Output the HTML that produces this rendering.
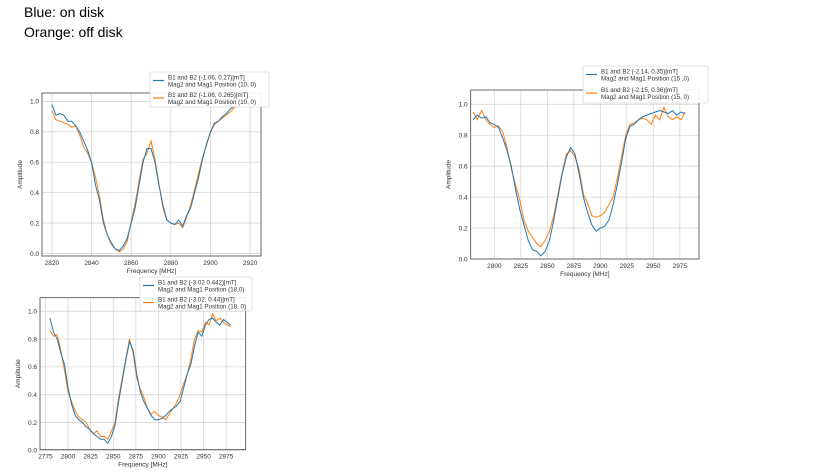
<!DOCTYPE html>
<html><head><meta charset="utf-8"><style>
body{margin:0;width:813px;height:472px;background:#fff;overflow:hidden;position:relative;font-family:"Liberation Sans",sans-serif}
.cap{position:absolute;left:24px;font-size:14px;color:#000}
svg{position:absolute;left:0;top:0}
</style></head><body>
<div class="cap" style="top:4px">Blue: on disk</div>
<div class="cap" style="top:24px">Orange: off disk</div>
<svg id="s" width="813" height="472"></svg>
<script>
const yTicks=[0,0.2,0.4,0.6,0.8,1.0];
const c1Freq=[2820,2822,2824,2826,2828,2830,2832,2834,2836,2838,2840,2842,2844,2846,2848,2850,2852,2854,2856,2858,2860,2862,2864,2866,2868,2870,2872,2874,2876,2878,2880,2882,2884,2886,2888,2890,2892,2894,2896,2898,2900,2902,2904,2906,2908,2910,2912,2914];
const c1Blue=[.98,.91,.92,.91,.87,.87,.84,.80,.74,.68,.60,.45,.35,.20,.12,.07,.03,.02,.05,.10,.20,.30,.45,.60,.69,.69,.60,.45,.32,.22,.20,.19,.22,.18,.25,.30,.40,.50,.62,.72,.80,.85,.87,.90,.92,.95,.97,.98];
const c1Orange=[.94,.88,.87,.86,.85,.83,.84,.78,.70,.66,.60,.50,.38,.22,.12,.06,.03,.01,.03,.08,.21,.33,.48,.62,.66,.74,.62,.46,.30,.22,.20,.19,.20,.17,.24,.32,.42,.53,.63,.71,.80,.86,.87,.89,.91,.93,.96,.97];
const c1XT=[2820,2840,2860,2880,2900,2920];
const c2Freq=[];for(let i=0;i<51;i++)c2Freq.push(2780+4*i);
const c2Blue=[.90,.93,.91,.92,.88,.87,.85,.78,.70,.60,.45,.32,.22,.12,.06,.05,.02,.05,.12,.25,.40,.55,.66,.72,.68,.55,.40,.30,.22,.18,.20,.21,.25,.35,.48,.62,.78,.86,.87,.90,.92,.93,.94,.95,.96,.95,.94,.96,.93,.95,.94];
const c2Orange=[.95,.90,.96,.90,.87,.85,.86,.82,.72,.58,.48,.38,.25,.18,.14,.10,.08,.12,.18,.28,.42,.56,.68,.70,.66,.58,.42,.36,.28,.27,.28,.30,.35,.40,.52,.66,.80,.87,.88,.90,.91,.90,.87,.93,.90,.98,.92,.90,.92,.90,.95];
const c2XT=[2800,2825,2850,2875,2900,2925,2950,2975];
const c3Freq=c2Freq.slice();
const c3Blue=[.95,.85,.80,.70,.62,.45,.33,.25,.22,.20,.17,.15,.12,.10,.08,.08,.05,.10,.18,.35,.50,.65,.78,.72,.55,.42,.35,.30,.25,.22,.22,.23,.25,.28,.30,.32,.35,.45,.55,.62,.75,.85,.82,.90,.94,.95,.92,.90,.94,.92,.90];
const c3Orange=[.86,.82,.83,.72,.58,.42,.35,.28,.24,.22,.20,.15,.12,.14,.10,.10,.08,.14,.20,.38,.52,.66,.80,.70,.52,.44,.38,.30,.26,.28,.25,.24,.22,.26,.30,.34,.40,.48,.55,.66,.80,.86,.85,.92,.90,.98,.93,.95,.92,.90,.89];
const c3XT=[2775,2800,2825,2850,2875,2900,2925,2950,2975];
const NS='http://www.w3.org/2000/svg',S=document.getElementById('s');
function el(t,a,p){const e=document.createElementNS(NS,t);for(const k in a)e.setAttribute(k,a[k]);(p||S).appendChild(e);return e;}
function chart(id,box,xr,yr,xt,freq,blue,orange,leg){
 const g=el('g',{});
 
 
 const X=v=>box.x0+(v-xr[0])/(xr[1]-xr[0])*(box.x1-box.x0);
 const Y=v=>box.y1-(v-yr[0])/(yr[1]-yr[0])*(box.y1-box.y0);
 xt.forEach(t=>{const x=X(t);const l=el('line',{x1:x,x2:x,y1:box.y0,y2:box.y1,stroke:'#d6d6d6','stroke-width':0.8},g);
  const tx=el('text',{x:x,y:box.y1+9,'font-size':6.5,'text-anchor':'middle',fill:'#333'},g);tx.textContent=t;});
 yTicks.forEach(t=>{const y=Y(t);const l=el('line',{x1:box.x0,x2:box.x1,y1:y,y2:y,stroke:'#d6d6d6','stroke-width':0.8},g);
  const tx=el('text',{x:box.x0-3,y:y+2.3,'font-size':6.5,'text-anchor':'end',fill:'#333'},g);tx.textContent=t.toFixed(1);});
 [['#ff7f0e',orange,'series-off-disk'],['#1f77b4',blue,'series-on-disk']].forEach(([c,d,n])=>{
  const p=el('polyline',{points:freq.map((f,i)=>X(f)+','+Y(d[i])).join(' '),fill:'none',stroke:c,'stroke-width':1},g);
  });
 const r=el('rect',{x:box.x0,y:box.y0,width:box.x1-box.x0,height:box.y1-box.y0,fill:'none',stroke:'#444','stroke-width':0.8},g);
 
 const xl=el('text',{x:(box.x0+box.x1)/2,y:box.y1+17,'font-size':6.5,'text-anchor':'middle',fill:'#333'},g);xl.textContent='Frequency [MHz]';
 
 const yx=box.x0-20,yy=(box.y0+box.y1)/2;
 const yl=el('text',{x:yx,y:yy,'font-size':6.5,'text-anchor':'middle',fill:'#333',transform:`rotate(-90 ${yx} ${yy})`},g);yl.textContent='Amplitude';
 
 const lg=el('g',{},g);
 el('rect',{x:leg.x,y:leg.y,width:leg.w,height:leg.h,fill:'#fff','fill-opacity':0.9,stroke:'#ccc','stroke-width':0.6,rx:1.5},lg);
 [['#1f77b4',leg.t[0]],['#ff7f0e',leg.t[1]]].forEach(([c,t],i)=>{
  const by=leg.y+2+i*leg.h/2;
  el('line',{x1:leg.x+3,x2:leg.x+14,y1:by+6.5,y2:by+6.5,stroke:c,'stroke-width':1.2},lg);
  t.forEach((s,j)=>{const tx=el('text',{x:leg.x+18,y:by+5.5+j*7,'font-size':6.2,fill:'#333'},lg);tx.textContent=s;});
 });
}
chart('chart-top-left',{x0:42,x1:261,y0:93,y1:256},[2815,2925.5],[-0.0166,1.0554],c1XT,c1Freq,c1Blue,c1Orange,
 {x:150,y:72,w:119,h:35,t:[['B1 and B2 (-1.06, 0.27)[mT]','Mag2 and Mag1 Position (10, 0)'],['B1 and B2 (-1.06, 0.265)[mT]','Mag2 and Mag1 Position (10, 0)']]});
chart('chart-top-right',{x0:470.7,x1:699,y0:90,y1:259},[2777.7,2993.1],[0,1.0924],c2XT,c2Freq,c2Blue,c2Orange,
 {x:583,y:66,w:125,h:37,t:[['B1 and B2 (-2.14, 0.35)[mT]','Mag2 and Mag1 Position (15 ,0)'],['B1 and B2 (-2.15, 0.36)[mT]','Mag2 and Mag1 Position (15, 0)']]});
chart('chart-bottom-left',{x0:40,x1:245.7,y0:297.7,y1:449.7},[2769,2996.6],[0.0049,1.0968],c3XT,c3Freq,c3Blue,c3Orange,
 {x:140,y:277,w:112,h:34,t:[['B1 and B2 (-3.02 0.442)[mT]','Mag2 and Mag1 Position (18,0)'],['B1 and B2 (-3.02, 0.44)[mT]','Mag2 and Mag1 Position (18, 0)']]});
</script>
</body></html>
